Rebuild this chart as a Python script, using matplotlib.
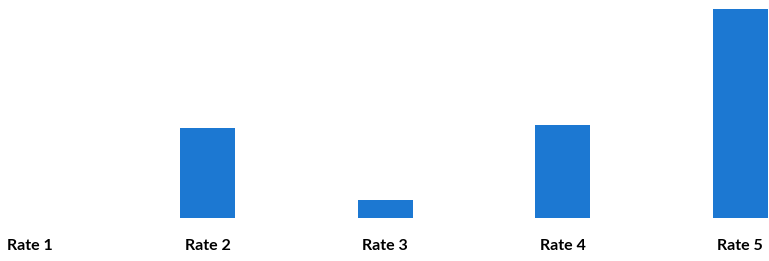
import matplotlib.pyplot as plt

categories = ['Rate 1', 'Rate 2', 'Rate 3', 'Rate 4', 'Rate 5']
values = [0, 90, 18, 93, 209]

bar_color = '#1c78d2'

fig = plt.figure(figsize=(7.69, 2.61), dpi=100)
ax = fig.add_axes([0, 43 / 261, 1, 218 / 261])

x = list(range(len(categories)))
ax.bar(x, values, width=0.31, color=bar_color)

ax.set_xlim(-0.169, 4.163)
ax.set_ylim(0, 218)
ax.set_xticks(x)
ax.set_xticklabels(categories, fontsize=11.5, fontweight='bold', family=['Lato', 'DejaVu Sans'])
ax.tick_params(axis='x', length=0, pad=15)
ax.set_yticks([])
for s in ax.spines.values():
    s.set_visible(False)

fig.savefig('out.png', dpi=100)
